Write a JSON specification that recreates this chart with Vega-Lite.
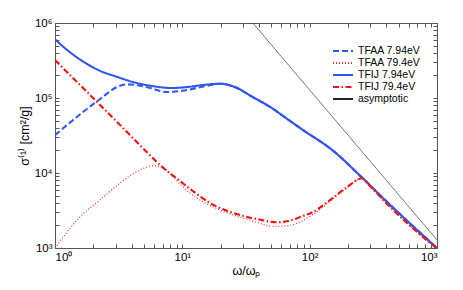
{
  "$schema": "https://vega.github.io/schema/vega-lite/v6.json",
  "width": 382,
  "height": 225,
  "autosize": "none",
  "padding": {"left": 55, "top": 23, "right": 26, "bottom": 42},
  "background": "white",
  "config": {
    "view": {"stroke": "#555", "strokeWidth": 1},
    "axis": {
      "grid": false,
      "domainColor": "#555",
      "tickColor": "#555",
      "labelColor": "black",
      "titleColor": "black",
      "labelFont": "Liberation Sans",
      "titleFont": "Liberation Sans",
      "labelFontSize": 11.5,
      "titleFontSize": 12.5,
      "titleFontWeight": "normal",
      "tickSize": -4,
      "labelPadding": 7
    },
    "legend": {
      "labelFont": "Liberation Sans",
      "labelFontSize": 10.5,
      "labelColor": "black",
      "padding": 0,
      "clipHeight": 12,
      "rowPadding": 0,
      "symbolType": "stroke",
      "symbolSize": 400,
      "symbolStrokeWidth": 1.8,
      "labelOffset": 4
    }
  },
  "datasets": {
    "curves": [
      {"s": "TFIJ 7.94eV", "x": 1, "y": 607000},
      {"s": "TFIJ 7.94eV", "x": 1.236, "y": 442000},
      {"s": "TFIJ 7.94eV", "x": 1.67, "y": 305000},
      {"s": "TFIJ 7.94eV", "x": 2.26, "y": 230000},
      {"s": "TFIJ 7.94eV", "x": 3.05, "y": 192000},
      {"s": "TFIJ 7.94eV", "x": 4.12, "y": 163000},
      {"s": "TFIJ 7.94eV", "x": 5.58, "y": 146000},
      {"s": "TFIJ 7.94eV", "x": 8.3, "y": 136000},
      {"s": "TFIJ 7.94eV", "x": 10.9, "y": 140000},
      {"s": "TFIJ 7.94eV", "x": 14.5, "y": 149000},
      {"s": "TFIJ 7.94eV", "x": 19.8, "y": 155000},
      {"s": "TFIJ 7.94eV", "x": 26.9, "y": 136000},
      {"s": "TFIJ 7.94eV", "x": 35, "y": 105000},
      {"s": "TFIJ 7.94eV", "x": 48.9, "y": 76000},
      {"s": "TFIJ 7.94eV", "x": 70, "y": 49500},
      {"s": "TFIJ 7.94eV", "x": 88.7, "y": 37400},
      {"s": "TFIJ 7.94eV", "x": 150, "y": 20300},
      {"s": "TFIJ 7.94eV", "x": 263, "y": 8400},
      {"s": "TFIJ 7.94eV", "x": 400, "y": 4200},
      {"s": "TFIJ 7.94eV", "x": 600, "y": 2200},
      {"s": "TFIJ 7.94eV", "x": 1000, "y": 1000},

      {"s": "TFAA 7.94eV", "x": 1, "y": 32000},
      {"s": "TFAA 7.94eV", "x": 1.66, "y": 65000},
      {"s": "TFAA 7.94eV", "x": 2.26, "y": 97000},
      {"s": "TFAA 7.94eV", "x": 3.07, "y": 140000},
      {"s": "TFAA 7.94eV", "x": 3.68, "y": 152000},
      {"s": "TFAA 7.94eV", "x": 4.5, "y": 148000},
      {"s": "TFAA 7.94eV", "x": 5.58, "y": 136000},
      {"s": "TFAA 7.94eV", "x": 7.6, "y": 120000},
      {"s": "TFAA 7.94eV", "x": 10.9, "y": 128000},
      {"s": "TFAA 7.94eV", "x": 14.5, "y": 142000},
      {"s": "TFAA 7.94eV", "x": 18, "y": 152000},
      {"s": "TFAA 7.94eV", "x": 19.8, "y": 155000},
      {"s": "TFAA 7.94eV", "x": 26.9, "y": 136000},
      {"s": "TFAA 7.94eV", "x": 35, "y": 105000},
      {"s": "TFAA 7.94eV", "x": 48.9, "y": 76000},
      {"s": "TFAA 7.94eV", "x": 70, "y": 49500},
      {"s": "TFAA 7.94eV", "x": 88.7, "y": 37400},
      {"s": "TFAA 7.94eV", "x": 150, "y": 20300},
      {"s": "TFAA 7.94eV", "x": 263, "y": 8400},
      {"s": "TFAA 7.94eV", "x": 400, "y": 4200},
      {"s": "TFAA 7.94eV", "x": 600, "y": 2200},
      {"s": "TFAA 7.94eV", "x": 1000, "y": 1000},

      {"s": "TFIJ 79.4eV", "x": 1, "y": 320000},
      {"s": "TFIJ 79.4eV", "x": 1.66, "y": 136000},
      {"s": "TFIJ 79.4eV", "x": 3.07, "y": 48000},
      {"s": "TFIJ 79.4eV", "x": 5.28, "y": 18900},
      {"s": "TFIJ 79.4eV", "x": 7.05, "y": 11800},
      {"s": "TFIJ 79.4eV", "x": 9.6, "y": 7800},
      {"s": "TFIJ 79.4eV", "x": 12, "y": 5800},
      {"s": "TFIJ 79.4eV", "x": 16.5, "y": 3980},
      {"s": "TFIJ 79.4eV", "x": 28.4, "y": 2750},
      {"s": "TFIJ 79.4eV", "x": 40, "y": 2400},
      {"s": "TFIJ 79.4eV", "x": 55, "y": 2200},
      {"s": "TFIJ 79.4eV", "x": 67.6, "y": 2290},
      {"s": "TFIJ 79.4eV", "x": 85, "y": 2600},
      {"s": "TFIJ 79.4eV", "x": 106, "y": 3020},
      {"s": "TFIJ 79.4eV", "x": 145, "y": 4370},
      {"s": "TFIJ 79.4eV", "x": 197, "y": 6500},
      {"s": "TFIJ 79.4eV", "x": 258, "y": 8500},
      {"s": "TFIJ 79.4eV", "x": 300, "y": 6600},
      {"s": "TFIJ 79.4eV", "x": 400, "y": 3950},
      {"s": "TFIJ 79.4eV", "x": 600, "y": 2050},
      {"s": "TFIJ 79.4eV", "x": 1000, "y": 980},

      {"s": "TFAA 79.4eV", "x": 1, "y": 1000},
      {"s": "TFAA 79.4eV", "x": 1.57, "y": 2590},
      {"s": "TFAA 79.4eV", "x": 2.26, "y": 4370},
      {"s": "TFAA 79.4eV", "x": 3.24, "y": 7350},
      {"s": "TFAA 79.4eV", "x": 4.65, "y": 11000},
      {"s": "TFAA 79.4eV", "x": 5.9, "y": 12500},
      {"s": "TFAA 79.4eV", "x": 7.05, "y": 11800},
      {"s": "TFAA 79.4eV", "x": 9.6, "y": 7100},
      {"s": "TFAA 79.4eV", "x": 11.5, "y": 5400},
      {"s": "TFAA 79.4eV", "x": 19.8, "y": 3200},
      {"s": "TFAA 79.4eV", "x": 34, "y": 2360},
      {"s": "TFAA 79.4eV", "x": 51.6, "y": 1950},
      {"s": "TFAA 79.4eV", "x": 67.6, "y": 1990},
      {"s": "TFAA 79.4eV", "x": 106, "y": 2800},
      {"s": "TFAA 79.4eV", "x": 145, "y": 4200},
      {"s": "TFAA 79.4eV", "x": 197, "y": 6400},
      {"s": "TFAA 79.4eV", "x": 258, "y": 8500},
      {"s": "TFAA 79.4eV", "x": 300, "y": 6600},
      {"s": "TFAA 79.4eV", "x": 400, "y": 3950},
      {"s": "TFAA 79.4eV", "x": 600, "y": 2050},
      {"s": "TFAA 79.4eV", "x": 1000, "y": 980},

      {"s": "asymptotic", "x": 35.78, "y": 1000000},
      {"s": "asymptotic", "x": 1000, "y": 1280}
    ],
    "frame": [{"x": 1, "y": 1000}, {"x": 1000, "y": 1000000}]
  },
  "layer": [
    {
      "data": {"name": "curves"},
      "mark": {"type": "line", "interpolate": "monotone", "clip": true},
      "encoding": {
        "x": {
          "field": "x", "type": "quantitative",
          "scale": {"type": "log", "domain": [1, 1000], "nice": false},
          "axis": {
            "orient": "bottom",
            "title": "ω/ωₚ",
            "values": [1,2,3,4,5,6,7,8,9,10,20,30,40,50,60,70,80,90,100,200,300,400,500,600,700,800,900,1000],
            "labelExpr": "abs(log(datum.value)/LN10 - round(log(datum.value)/LN10)) < 0.000001 ? '10' + ['⁰','¹','²','³','⁴','⁵','⁶'][round(log(datum.value)/LN10)] : ''",
            "titlePadding": 2
          }
        },
        "y": {
          "field": "y", "type": "quantitative",
          "scale": {"type": "log", "domain": [1000, 1000000], "nice": false},
          "axis": {
            "orient": "left",
            "title": "σ⁽¹⁾ [cm²/g]",
            "values": [1000,2000,3000,4000,5000,6000,7000,8000,9000,10000,20000,30000,40000,50000,60000,70000,80000,90000,100000,200000,300000,400000,500000,600000,700000,800000,900000,1000000],
            "labelExpr": "abs(log(datum.value)/LN10 - round(log(datum.value)/LN10)) < 0.000001 ? '10' + ['⁰','¹','²','³','⁴','⁵','⁶'][round(log(datum.value)/LN10)] : ''",
            "titlePadding": 3
          }
        },
        "color": {
          "field": "s", "type": "nominal",
          "scale": {
            "domain": ["TFAA 7.94eV", "TFAA 79.4eV", "TFIJ 7.94eV", "TFIJ 79.4eV", "asymptotic"],
            "range": ["#2f55f2", "#f02a2a", "#2f55f2", "#f01010", "#222222"]
          },
          "legend": {
            "title": null,
            "orient": "none",
            "legendX": 277,
            "legendY": 22
          }
        },
        "strokeDash": {
          "field": "s", "type": "nominal",
          "scale": {
            "domain": ["TFAA 7.94eV", "TFAA 79.4eV", "TFIJ 7.94eV", "TFIJ 79.4eV", "asymptotic"],
            "range": [[6, 3], [1, 2], [1, 0], [6, 2.5, 1.5, 2.5], [1, 0]]
          },
          "legend": {
            "title": null,
            "orient": "none",
            "legendX": 277,
            "legendY": 22
          }
        },
        "strokeWidth": {
          "condition": [
            {"test": "datum.s === 'TFAA 79.4eV'", "value": 1.2},
            {"test": "datum.s === 'asymptotic'", "value": 0.7}
          ],
          "value": 2.1
        },
        "order": {"field": "x", "type": "quantitative"}
      }
    },
    {
      "data": {"name": "frame"},
      "mark": {"type": "point", "opacity": 0},
      "encoding": {
        "x": {
          "field": "x", "type": "quantitative",
          "scale": {"type": "log", "domain": [1, 1000], "nice": false},
          "axis": {
            "orient": "top", "title": null, "labels": false,
            "values": [1,2,3,4,5,6,7,8,9,10,20,30,40,50,60,70,80,90,100,200,300,400,500,600,700,800,900,1000]
          }
        },
        "y": {
          "field": "y", "type": "quantitative",
          "scale": {"type": "log", "domain": [1000, 1000000], "nice": false},
          "axis": {
            "orient": "right", "title": null, "labels": false,
            "values": [1000,2000,3000,4000,5000,6000,7000,8000,9000,10000,20000,30000,40000,50000,60000,70000,80000,90000,100000,200000,300000,400000,500000,600000,700000,800000,900000,1000000]
          }
        }
      }
    }
  ],
  "resolve": {"axis": {"x": "independent", "y": "independent"}}
}
